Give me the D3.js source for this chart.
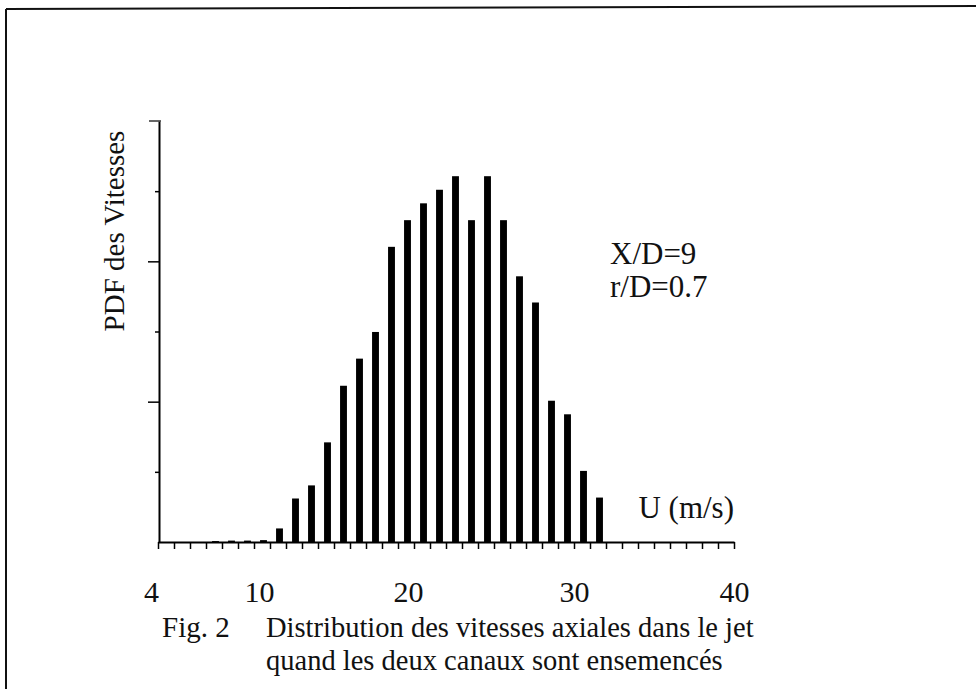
<!DOCTYPE html>
<html><head><meta charset="utf-8">
<script src="https://cdn.jsdelivr.net/npm/d3@7"></script>
<style>
body{margin:0;background:#fff;}
text{font-family:"Liberation Serif","Times New Roman",serif;fill:#111;}
</style></head>
<body><svg id="c" width="976" height="689"></svg>
<script>
// Bin centres (m/s) and PDF values
const binCenters = [7.5, 8.5, 9.5, 10.5, 11.5, 12.5, 13.5, 14.5, 15.5, 16.5, 17.5, 18.5, 19.5, 20.5, 21.5, 22.5, 23.5, 24.5, 25.5, 26.5, 27.5, 28.5, 29.5, 30.5, 31.5];
const pdfValues  = [0.0002, 0.0003, 0.0003, 0.0004, 0.0029, 0.0093, 0.0121, 0.0213, 0.0334, 0.0392, 0.0449, 0.0631, 0.0688, 0.0724, 0.0753, 0.0782, 0.0688, 0.0782, 0.0688, 0.0568, 0.0512, 0.0302, 0.0273, 0.0152, 0.0095];
const xTickLabels = [4, 10, 20, 30, 40];
const xMinorTicks = d3.range(4, 41, 1);
const yMajorTicks = [0.03, 0.06];
const yMinorTicks = [0.015, 0.045, 0.075];
const yTop = 0.09;
const annotations = ["X/D=9", "r/D=0.7"];
const xTitle = "U (m/s)";
const yTitle = "PDF des Vitesses";
const captionFig = "Fig. 2";
const caption1 = "Distribution des vitesses axiales dans le jet";
const caption2 = "quand les deux canaux sont ensemencés";

const svg = d3.select("#c");

// frame (scanned page border)
svg.append("line").attr("x1",6).attr("y1",9).attr("x2",976).attr("y2",6).attr("stroke","#111").attr("stroke-width",2);
svg.append("line").attr("x1",6).attr("y1",9).attr("x2",6).attr("y2",689).attr("stroke","#111").attr("stroke-width",2);

const x = d3.scaleLinear().domain([4, 40]).range([158, 734]);
const y = d3.scaleLinear().domain([0, yTop]).range([542, 121]);

// bars
const unit = x(1) - x(0);
const bw = unit * 0.43;
svg.append("g").selectAll("rect").data(binCenters).join("rect")
  .attr("x", (d) => x(d) - bw/2 + 1.5)
  .attr("width", bw)
  .attr("y", (d,i) => y(pdfValues[i]))
  .attr("height", (d,i) => y(0) - y(pdfValues[i]))
  .attr("fill", "#000");

// x axis: minor ticks
const gx = svg.append("g").attr("transform", `translate(0,${y(0)})`)
  .call(d3.axisBottom(x).tickValues(xMinorTicks).tickSize(7).tickFormat("").tickSizeOuter(0));
gx.select(".domain").attr("stroke","#000").attr("stroke-width",2);
gx.selectAll(".tick line").attr("stroke","#000").attr("stroke-width",1.5);

// x axis labels
const gxl = svg.append("g").attr("transform", `translate(0,${y(0)})`)
  .call(d3.axisBottom(x).tickValues(xTickLabels).tickSize(0).tickPadding(0));
gxl.select(".domain").remove();
gxl.selectAll(".tick text").attr("dy", null).attr("y", 60)
  .attr("dx", (d) => d === 4 ? -7 : (d === 10 ? 5 : (d === 20 ? -6 : 0)))
  .style("font-family", '"Liberation Serif",serif').style("font-size", "30px").attr("fill","#111");

// y axis
const gy = svg.append("g").attr("transform", `translate(${x(4)+1},0)`)
  .call(d3.axisLeft(y).tickValues(yMajorTicks).tickSize(11).tickFormat("").tickSizeOuter(0));
gy.select(".domain").attr("stroke","#000").attr("stroke-width",2);
gy.selectAll(".tick line").attr("stroke","#000").attr("stroke-width",1.5);
const gy2 = svg.append("g").attr("transform", `translate(${x(4)+1},0)`)
  .call(d3.axisLeft(y).tickValues(yMinorTicks).tickSize(4).tickFormat("").tickSizeOuter(0));
gy2.select(".domain").remove();
gy2.selectAll(".tick line").attr("stroke","#000").attr("stroke-width",1.5);
// top cap
svg.append("line").attr("x1", x(4)-9).attr("x2", x(4)+3).attr("y1", y(yTop)).attr("y2", y(yTop))
  .attr("stroke","#333").attr("stroke-width",1.5);

// texts
svg.append("text").attr("transform","translate(124,231) rotate(-90)").attr("text-anchor","middle")
  .style("font-size", "29px").text(yTitle);
svg.append("text").attr("x",610).attr("y",264).style("font-size","31px").text(annotations[0]);
svg.append("text").attr("x",610).attr("y",297).style("font-size","31px").text(annotations[1]);
svg.append("text").attr("x",734).attr("y",518).attr("text-anchor","end").style("font-size","31px").text(xTitle);
svg.append("text").attr("x",162).attr("y",637).style("font-size","29px").text(captionFig);
svg.append("text").attr("x",266).attr("y",637).style("font-size","28.5px").text(caption1);
svg.append("text").attr("x",266).attr("y",670).style("font-size","28.5px").text(caption2);
</script></body></html>
